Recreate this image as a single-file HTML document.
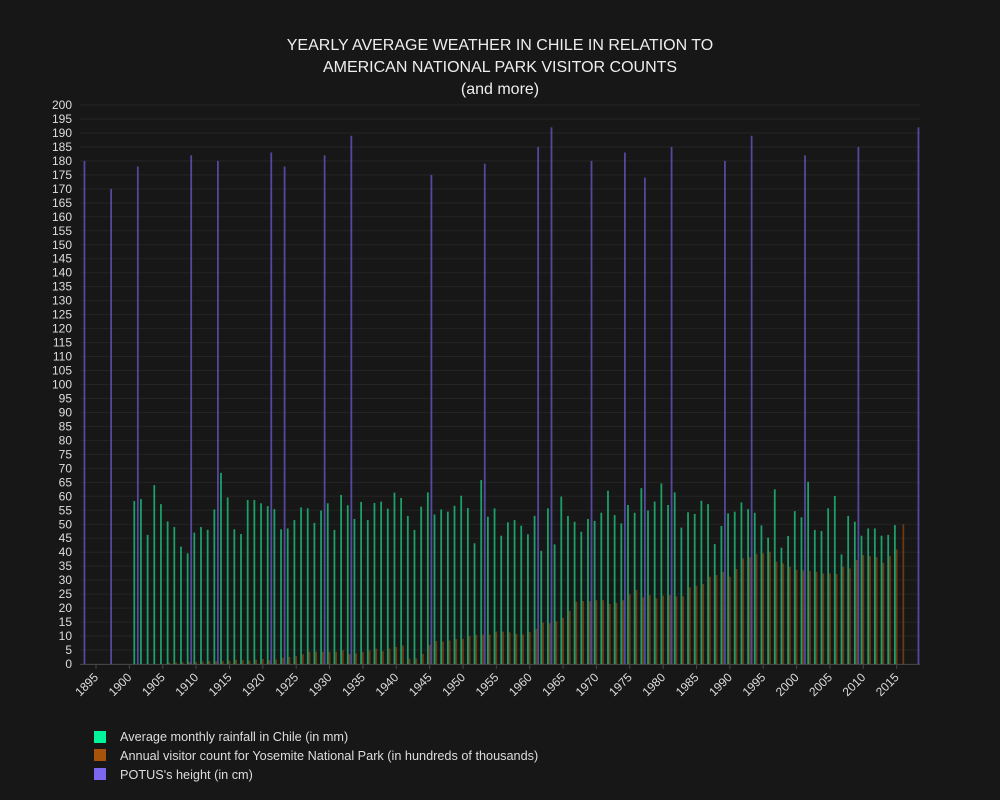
<!DOCTYPE html>
<html><head><meta charset="utf-8">
<style>
html,body{margin:0;padding:0;background:#171717;}
svg{display:block;font-family:"Liberation Sans","DejaVu Sans",sans-serif;}
</style></head>
<body>
<svg id="chart" width="1000" height="800">
<rect width="1000" height="800" fill="#171717"/>
<g id="grid"></g>
<g id="bars"></g>
<g id="axes"></g>
<g fill="#eeeeee" font-size="16" text-anchor="middle">
<text x="500" y="50">YEARLY AVERAGE WEATHER IN CHILE IN RELATION TO</text>
<text x="500" y="72">AMERICAN NATIONAL PARK VISITOR COUNTS</text>
<text x="500" y="94">(and more)</text>
</g>
<g font-size="12.7" fill="#dddddd">
<g><rect x="94" y="731" width="12" height="12" fill="#00f59b"/><text x="120" y="741">Average monthly rainfall in Chile (in mm)</text></g>
<g><rect x="94" y="749" width="12" height="12" fill="#a6520a"/><text x="120" y="760">Annual visitor count for Yosemite National Park (in hundreds of thousands)</text></g>
<g><rect x="94" y="768" width="12" height="12" fill="#7b68ee"/><text x="120" y="779">POTUS's height (in cm)</text></g>
</g>
</svg>
<script>
const rainStartYear = 1901;
const rainValues = [58.3,59,46.2,64,57.2,51,49,42,39.6,47,49,48,55.3,68.4,59.6,48.2,46.5,58.7,58.7,57.5,56.5,55.4,48.2,48.5,51.5,56,55.7,50.5,
54.9,57.5,48,60.5,56.8,51.9,58,51.5,57.6,58.1,55.6,61.3,59.4,53,48,56.3,61.4,53.5,55.3,54.5,56.6,60.2,55.8,43.2,65.8,52.7,55.7,45.9,50.7,51.5,
49.5,46.4,53,40.5,55.7,42.8,59.9,53,50.9,47.3,51.9,51.2,54.1,62,53.3,50.3,56.9,54.1,62.9,54.9,58.1,64.6,56.9,61.4,48.8,54.3,53.7,58.4,57.2,
42.9,49.4,53.9,54.5,57.8,55.4,54.1,49.6,45.2,62.5,41.6,45.8,54.7,52.5,65.2,48,47.6,55.7,60.1,39.2,53,50.9,45.9,48.5,48.5,45.9,46.2,49.7];
const parkStartYear = 1906;
const parkValues = [0.5,0.5,0.6,0.7,0.8,0.9,1,1,1.1,1.2,1.5,1.4,1.2,1.5,1.8,1.3,1.6,2.2,2.5,2.8,3.5,4.4,
4.4,4.4,4.4,4.4,4.9,3.5,3.8,4.3,4.9,5.5,4.6,5.5,6.1,6.6,1.9,2,3.6,6.8,8.2,8,8.4,8.9,9,10,10.4,10.5,10.5,11.6,11.6,
11.3,10.8,10.6,11.4,12.6,14.8,14.6,15.3,16.5,19,22.3,22.5,22.5,22.8,22.8,21.5,21.9,22.8,25,26.5,23.8,24.6,23.5,24.5,24.7,24.2,24.2,27.4,28,28.6,
31.2,31.8,33,31.2,34,37.8,38.2,39.4,39.6,40.2,36.6,36,34.8,33.7,33.5,33.3,33,32.4,32.4,32.2,34.8,34.2,37.2,39,38.6,38.2,36.2,38.6,41,50];
const potusYears = [1893,1897,1901,1909,1913,1921,1923,1929,1933,1945,1953,1961,1963,1969,1974,1977,1981,1989,1993,2001,2009,2018];
const potusHeights = [180,170,178,182,180,183,178,182,189,175,179,185,192,180,183,174,185,180,189,182,185,192];
const yTicks = Array.from({length:41},(_,i)=>i*5);
const xTicks = [1895,1900,1905,1910,1915,1920,1925,1930,1935,1940,1945,1950,1955,1960,1965,1970,1975,1980,1985,1990,1995,2000,2005,2010,2015];

const NS="http://www.w3.org/2000/svg";
const X0=80, X1=920, Y0=664, Y1=105;
const xMin=1892.6, xMax=2018.5, yMax=200;
const xs=y=>X0+(y-xMin)/(xMax-xMin)*(X1-X0);
const ys=v=>Y0-v/yMax*(Y0-Y1);
const slot=(X1-X0)/(xMax-xMin);
const bw=slot*0.8/3;
function mk(tag,attrs,parent){const e=document.createElementNS(NS,tag);for(const k in attrs)e.setAttribute(k,attrs[k]);parent.appendChild(e);return e;}
const grid=document.getElementById('grid'), bars=document.getElementById('bars'), axes=document.getElementById('axes');
yTicks.forEach(t=>{
  const l=mk('line',{x1:X0,x2:X1,y1:ys(t),y2:ys(t),stroke:'#242424','stroke-width':1},grid);
  
  
  const tx=mk('text',{x:X0-8,y:ys(t)+4,'text-anchor':'end','font-size':12,fill:'#dddddd'},axes);
  tx.textContent=t;
  
  
});
function bar(xc,v,color,name){
  const r=mk('rect',{x:xc-bw/2,y:ys(v),width:bw,height:Y0-ys(v),fill:color,'fill-opacity':0.75},bars);
  
  
}
parkValues.forEach((v,i)=>bar(xs(parkStartYear+i),v,'#8b4513','bar-yosemite'));
rainValues.forEach((v,i)=>bar(xs(rainStartYear+i)-bw,v,'#1ecf85','bar-rainfall'));
potusYears.forEach((y,i)=>bar(xs(y)+bw,potusHeights[i],'#6a5acd','bar-potus'));
const ax=mk('line',{x1:X0,x2:X1,y1:Y0+0.5,y2:Y0+0.5,stroke:'#444','stroke-width':1},axes);


xTicks.forEach(t=>{
  const x=xs(t);
  mk('line',{x1:x,x2:x,y1:Y0,y2:Y0+5,stroke:'#444'},axes);
  const tx=mk('text',{x:x+3,y:Y0+14,'text-anchor':'end','font-size':12,fill:'#dddddd',transform:`rotate(-45 ${x+3} ${Y0+14})`},axes);
  tx.textContent=t;
  
  
});
</script>
</body></html>
